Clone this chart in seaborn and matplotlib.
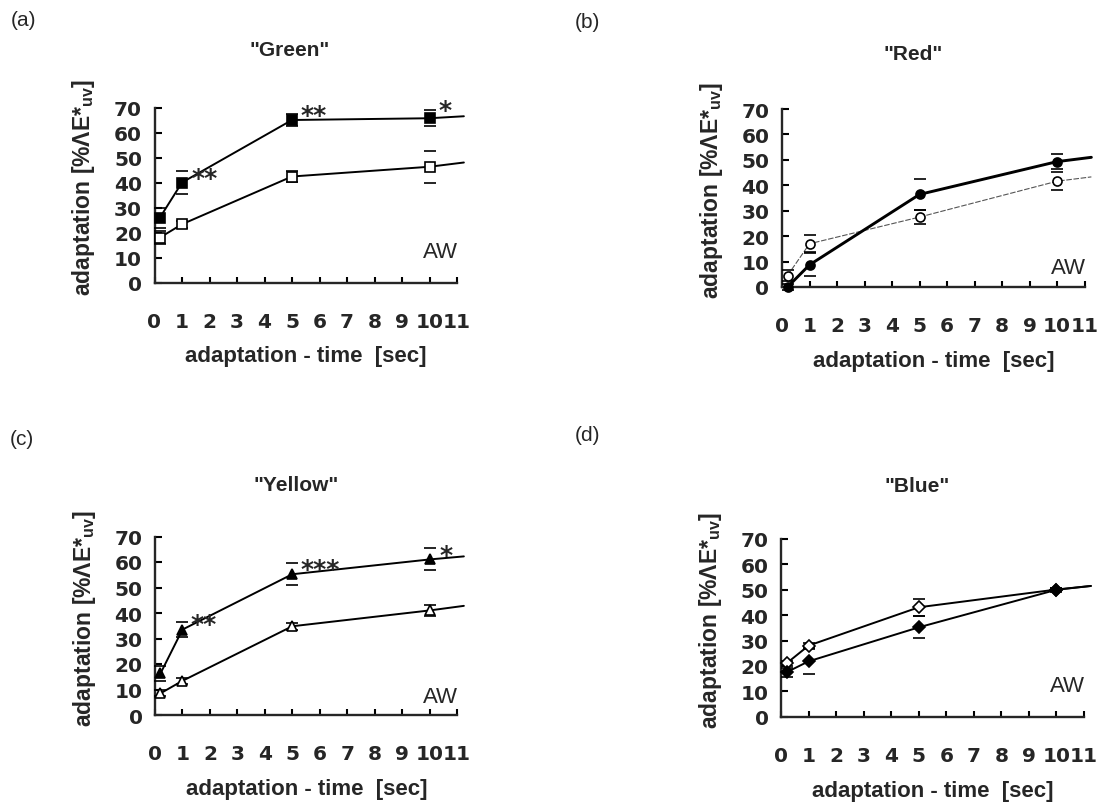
import matplotlib
matplotlib.use("Agg")
import matplotlib.pyplot as plt
import seaborn as sns
import pandas as pd

# measured adaptation times [sec]; lines are continued a little past 11 s
times = [0.2, 1, 5, 10]
ext_time = 11.25
tick_values = list(range(12))

green_filled = [26.0, 40.0, 65.0, 65.7]
green_filled_err = [4.0, 4.7, 2.3, 3.2]
green_filled_ext = 66.5
green_open = [18.0, 23.3, 42.4, 46.3]
green_open_err = [2.5, 1.5, 2.3, 6.3]
green_open_ext = 48.0

red_filled = [0.0, 8.7, 36.4, 49.3]
red_filled_err = [1.0, 4.5, 6.0, 3.0]
red_filled_ext = 51.0
red_open = [4.5, 17.0, 27.5, 41.6]
red_open_err = [2.0, 3.3, 2.8, 3.6]
red_open_ext = 43.3

yellow_filled = [16.3, 33.5, 55.2, 61.0]
yellow_filled_err = [3.0, 3.0, 4.4, 4.3]
yellow_filled_ext = 62.2
yellow_open = [8.5, 13.4, 34.8, 41.0]
yellow_open_err = [1.2, 1.3, 1.4, 2.3]
yellow_open_ext = 42.8

blue_open = [21.0, 28.0, 43.1, 50.1]
blue_open_err = [1.0, 1.0, 3.3, 0.7]
blue_open_ext = 51.5
blue_filled = [17.5, 21.8, 35.2, 50.0]
blue_filled_err = [1.7, 5.0, 4.3, 0.7]
blue_filled_ext = 51.5

green_stars = [(1.35, 42.0, "**"), (5.3, 67.0, "**"), (10.33, 69.0, "*")]
yellow_stars = [(1.3, 35.8, "**"), (5.3, 57.3, "***"), (10.35, 62.8, "*")]

sns.set_theme(style="ticks")
plt.rcParams["font.family"] = ["DejaVu Sans"]
plt.rcParams["mathtext.fontset"] = "custom"
plt.rcParams["mathtext.rm"] = "Liberation Sans:bold"
plt.rcParams["mathtext.default"] = "rm"

W, H = 1101, 804
fig = plt.figure(figsize=(W / 100, H / 100), dpi=100)


def make_axes(x0, x11, y0, y70):
    """Axes rectangle from pixel positions of x=0, x=11, y=0, y=70."""
    width = (x11 - x0) * ext_time / 11
    return fig.add_axes([x0 / W, 1 - y0 / H, width / W, (y0 - y70) / H])


def draw_series(ax, vals, errs, ext, marker, filled, lw=1.4, color="black", ls="-"):
    df = pd.DataFrame({"t": times + [ext_time], "v": vals + [ext]})
    sns.lineplot(data=df, x="t", y="v", ax=ax, color=color, lw=lw, ls=ls,
                 clip_on=False, zorder=2)
    ax.errorbar(times, vals, yerr=errs, fmt=marker, ms=6.5, mew=1.2,
                mec="black", mfc="black" if filled else "white",
                ecolor="black", elinewidth=0, capsize=4, capthick=2.6,
                clip_on=False, zorder=3)


def add_stars(ax, stars):
    for x, y, s in stars:
        ax.text(x, y, s, family="DejaVu Sans", fontweight="bold",
                fontsize=18, ha="left", va="center")


def style_axes(ax, title, tag, tag_xy, title_xy, aw_y):
    ax.set_xlim(0, ext_time)
    ax.set_ylim(0, 70)
    ax.set_xticks(tick_values)
    ax.set_yticks(range(0, 71, 10))
    sns.despine(ax=ax)
    ax.spines["bottom"].set_bounds(0, 11)
    ax.spines["bottom"].set_linewidth(1.7)
    ax.spines["left"].set_linewidth(1.7)
    ax.tick_params(axis="x", direction="in", length=4.5, width=1.5, pad=21,
                   labelsize=14.5, color="black")
    ax.tick_params(axis="y", direction="in", length=5, width=1.5, pad=9,
                   labelsize=14.5, color="black")
    for lbl in ax.get_xticklabels() + ax.get_yticklabels():
        lbl.set_fontweight("bold")
    ax.set_xlabel("adaptation - time  [sec]", family="Liberation Sans",
                  fontweight="bold", fontsize=16)
    ax.set_ylabel("adaptation [%ΛE*$_{uv}$]", family="Liberation Sans",
                  fontweight="bold", fontsize=16.5)
    ax.xaxis.set_label_coords(0.49, -0.355)
    ax.yaxis.set_label_coords(-0.185, 0.547)
    ax.text(10.4, aw_y, "AW", family="Liberation Sans", fontsize=16,
            ha="center", va="center")
    fig.text(tag_xy[0] / W, 1 - tag_xy[1] / H, tag, family="Liberation Sans",
             fontsize=15, ha="center", va="center")
    fig.text(title_xy[0] / W, 1 - title_xy[1] / H, title, family="Liberation Sans",
             fontweight="bold", fontsize=15, ha="center", va="center")


# (a) Green
ax_a = make_axes(154.5, 457, 283.5, 108.5)
draw_series(ax_a, green_filled, green_filled_err, green_filled_ext, "s", True)
draw_series(ax_a, green_open, green_open_err, green_open_ext, "s", False)
add_stars(ax_a, green_stars)
style_axes(ax_a, '"Green"', "(a)", (24, 21), (290, 51), 12.2)

# (b) Red
ax_b = make_axes(782, 1084.5, 288, 110)
draw_series(ax_b, red_open, red_open_err, red_open_ext, "o", False,
            lw=0.8, color="#555555", ls=(0, (5, 1.5)))
draw_series(ax_b, red_filled, red_filled_err, red_filled_ext, "o", True, lw=2.1)
style_axes(ax_b, '"Red"', "(b)", (587, 23), (913, 54), 7.7)

# (c) Yellow
ax_c = make_axes(155, 457, 716, 537.5)
draw_series(ax_c, yellow_filled, yellow_filled_err, yellow_filled_ext, "^", True)
draw_series(ax_c, yellow_open, yellow_open_err, yellow_open_ext, "^", False)
add_stars(ax_c, yellow_stars)
style_axes(ax_c, '"Yellow"', "(c)", (22, 440), (296, 486), 7.3)

# (d) Blue
ax_d = make_axes(781, 1084, 717.7, 540)
draw_series(ax_d, blue_open, blue_open_err, blue_open_ext, "D", False)
draw_series(ax_d, blue_filled, blue_filled_err, blue_filled_ext, "D", True)
style_axes(ax_d, '"Blue"', "(d)", (587, 436), (917, 487), 12.2)

fig.savefig("out.png", dpi=100, facecolor="white")
